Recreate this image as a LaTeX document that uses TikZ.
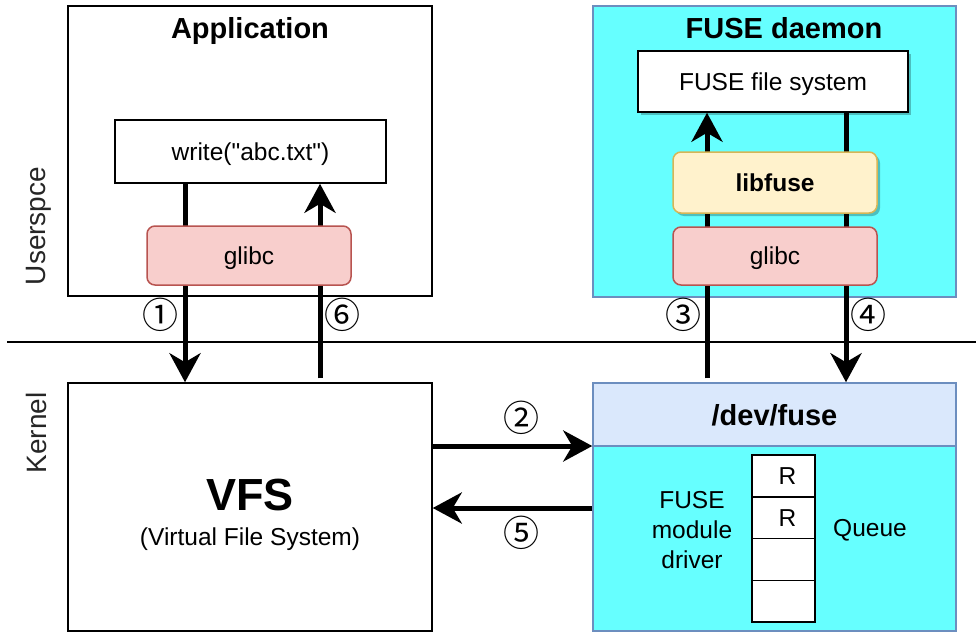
\documentclass[tikz,border=0pt]{standalone}
\usepackage{fontspec}
\setmainfont{Liberation Sans}
% plain family without TeX ligatures, so that " stays a straight quote
\newfontfamily\codefont{Liberation Sans}
\newfontfamily\circfont{Noto Sans CJK SC}
\usetikzlibrary{arrows.meta,shadows}

\definecolor{fusecyan}{HTML}{66FFFF}
\definecolor{bluestroke}{HTML}{6C8EBF}
\definecolor{bluefill}{HTML}{DAE8FC}
\definecolor{pinkfill}{HTML}{F8CECC}
\definecolor{pinkstroke}{HTML}{B85450}
\definecolor{yellowfill}{HTML}{FFF2CC}
\definecolor{yellowstroke}{HTML}{D6B656}

\newcommand{\fsNormal}{\fontsize{24.5}{30}\selectfont}
\newcommand{\fsTitle}{\fontsize{29}{34}\selectfont\bfseries}
\newcommand{\fsHuge}{\fontsize{45}{50}\selectfont\bfseries}

\tikzset{
  plain/.style={draw=black, line width=1.5pt, fill=white, inner sep=0pt, text depth=0pt},
  bluebox/.style={draw=bluestroke, line width=1.5pt, fill=fusecyan, inner sep=0pt},
  hdrbox/.style={draw=bluestroke, line width=1.5pt, fill=bluefill, inner sep=0pt,
                 text depth=0pt, font=\fsTitle},
  libbox/.style={draw=pinkstroke, line width=1.5pt, fill=pinkfill, rounded corners=8pt,
                 inner sep=0pt, text depth=0pt, font=\fsNormal},
  fusebox/.style={draw=yellowstroke, line width=1.5pt, fill=yellowfill, rounded corners=8pt,
                  inner sep=0pt, text depth=0pt, font=\fsNormal\bfseries,
                  drop shadow={shadow xshift=3pt, shadow yshift=-3pt, fill=black, opacity=0.25}},
  shadowbox/.style={plain, drop shadow={shadow xshift=3pt, shadow yshift=-3pt, fill=black, opacity=0.25}},
  cell/.style={draw=black, line width=1.5pt, fill=white, minimum width=63pt,
               minimum height=41.75pt, inner sep=0pt, text depth=0pt, font=\fsNormal},
  title/.style={font=\fsTitle, inner sep=0pt, text depth=0pt},
  txt/.style={font=\fsNormal, inner sep=0pt, align=center},
  side/.style={font=\fontsize{28}{32}\selectfont, text=black!85, inner sep=0pt,
               text depth=0pt, rotate=90},
  num/.style={font=\circfont\fontsize{36}{36}\selectfont, text=black, inner sep=0pt},
  flow/.style={line width=5pt, -{Stealth[length=29pt,width=31pt,inset=9pt]}},
  sepline/.style={line width=1.5pt, draw=black},
}

\begin{document}
\begin{tikzpicture}[x=1pt,y=-1pt]
\useasboundingbox (0,0) rectangle (976,632);

% Vertical positions of the flow lines
\coordinate (x1) at (185,0);
\coordinate (x6) at (320,0);
\coordinate (x3) at (707,0);
\coordinate (x4) at (846,0);
\coordinate (y2) at (0,446);
\coordinate (y5) at (0,508);

% Containers
\node[plain, minimum width=364pt, minimum height=290pt] (app) at (250,151) {};
\node[title] (apptitle) at (250,28) {Application};
\node[bluebox, minimum width=363pt, minimum height=291pt] (daemon) at (774.5,151.5) {};
\node[title] (daemontitle) at (784,28) {FUSE daemon};

\node[plain, minimum width=364pt, minimum height=248pt] (vfs) at (250,507) {};
\node[inner sep=0pt, text depth=0pt, font=\fsHuge] (vfsname) at (250,495) {VFS};
\node[txt, text depth=0pt] (vfssub) at (250,537) {(Virtual File System)};

\node[hdrbox, minimum width=363pt, minimum height=63pt] (devhdr) at (774.5,414.5) {/dev/fuse};
\node[bluebox, minimum width=363pt, minimum height=185pt] (drv) at (774.5,538.5) {};

% Inner boxes
\node[plain, minimum width=271pt, minimum height=63pt, font=\codefont\fsNormal] (write) at (250.5,151.5) {write("abc.txt")};
\node[shadowbox, minimum width=270pt, minimum height=61pt, font=\fsNormal] (ffs) at (773,81.5) {FUSE file system};

% Separator between user space and kernel
\coordinate (sepL) at (7,342);
\coordinate (sepR) at (976,342);
\draw[sepline] (sepL) -- (sepR);
\node[side] (user) at (36,226) {Userspce};
\node[side] (kern) at (36,433) {Kernel};

% Request / reply flow
\draw[flow] (write.south -| x1) -- (vfs.north -| x1);
\draw[flow, shorten <=4pt] (vfs.north -| x6) -- (write.south -| x6);
\draw[flow] (vfs.east |- y2) -- (devhdr.west |- y2);
\draw[flow, shorten <=4pt] (devhdr.north -| x3) -- (ffs.south -| x3);
\draw[flow] (ffs.south -| x4) -- (devhdr.north -| x4);
\draw[flow] (drv.west |- y5) -- (vfs.east |- y5);

% Libraries drawn over the flow lines
\node[libbox, minimum width=204pt, minimum height=59pt] (glibcA) at (249,255.5) {glibc};
\node[fusebox, minimum width=204pt, minimum height=61pt] (libfuse) at (775,182.5) {libfuse};
\node[libbox, minimum width=204pt, minimum height=58pt] (glibcB) at (775,256) {glibc};

% Step numbers
\node[num] (n1) at (160,315) {①};
\node[num] (n6) at (342,315) {⑥};
\node[num] (n3) at (683,315) {③};
\node[num] (n4) at (868,315) {④};
\node[num] (n2) at (521,418) {②};
\node[num] (n5) at (521,533) {⑤};

% Kernel module and its request queue
\node[txt] (drvtext) at (692,530) {FUSE\\module\\driver};
\node[cell] (q1) at (783.5,476) {\hspace{8pt}R};
\node[cell] (q2) at (783.5,517.75) {\hspace{8pt}R};
\node[cell] (q3) at (783.5,559.5) {};
\node[cell] (q4) at (783.5,601.25) {};
\node[txt, text depth=0pt] (queue) at (870,528) {Queue};
\end{tikzpicture}
\end{document}
